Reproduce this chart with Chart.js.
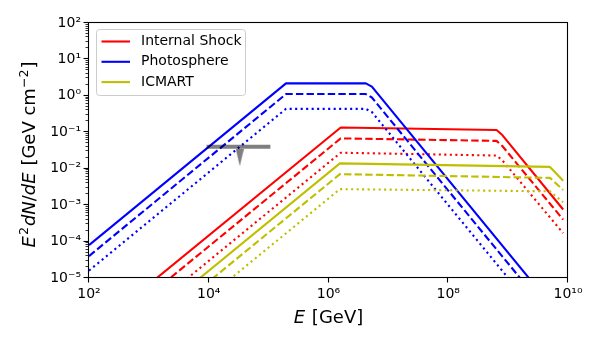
<!DOCTYPE html>
<html>
<head>
<meta charset="utf-8">
<script src="https://cdn.jsdelivr.net/npm/chart.js@4.4.1/dist/chart.umd.min.js"></script>
<style>
  html, body { margin: 0; padding: 0; background: #fff; }
  #wrap { width: 600px; height: 350px; }
</style>
</head>
<body>
<div id="wrap"><canvas id="myChart" width="600" height="350"></canvas></div>
<script>
// Internal Shock: energies (GeV) at the knots and E^2 dN/dE for the three line styles
const isEnergy = [1e2, 1.6e6, 6.4e8, 8.0e8, 8.3e9];
const isSolid  = [3e-7, 0.135, 0.115, 0.084, 7.6e-4];
const isDashed = [1.5e-7, 0.068, 0.058, 0.042, 4.0e-4];
const isDotted = [6e-8, 0.0275, 0.023, 0.017, 1.7e-4];

// Photosphere
const phEnergy = [1e2, 1.95e5, 4.2e6, 5.3e6, 1e10];
const phSolid  = [8e-5, 2.2, 2.2, 1.8, 4.9e-7];
const phDashed = [4e-5, 1.12, 1.12, 0.9, 2.5e-7];
const phDotted = [1.6e-5, 0.44, 0.44, 0.36, 1e-7];

// ICMART
const icEnergy = [1e2, 1.55e6, 5e9, 8.3e9];
const icSolid  = [3.2e-8, 0.014, 0.0112, 0.0047];
const icDashed = [1.6e-8, 0.0071, 0.0056, 0.0026];
const icDotted = [6.3e-9, 0.00275, 0.0024, 0.0012];

// grey upper limit
const ulEnergy = [9.2e3, 1.07e5];
const ulFlux = 0.04;
const ulArrowEnergy = 3.3e4;
const ulArrowFlux = 0.02;

// axes
const xTicks = [1e2, 1e4, 1e6, 1e8, 1e10];
const xTickLabels = ['10²', '10⁴', '10⁶', '10⁸', '10¹⁰'];
const yTicks = [1e-5, 1e-4, 1e-3, 1e-2, 1e-1, 1e0, 1e1, 1e2];
const yTickLabels = ['10⁻⁵', '10⁻⁴', '10⁻³', '10⁻²', '10⁻¹', '10⁰', '10¹', '10²'];

const FONT = '"DejaVu Sans", sans-serif';
const DASHED = [7.4, 3.2];
const DOTTED = [2.1, 3.4];

const models = [
  { name: 'Internal Shock', color: '#ff0000', e: isEnergy, series: [isSolid, isDashed, isDotted] },
  { name: 'Photosphere',    color: '#0000ff', e: phEnergy, series: [phSolid, phDashed, phDotted] },
  { name: 'ICMART',         color: '#bfbf00', e: icEnergy, series: [icSolid, icDashed, icDotted] }
];

const pts = (xs, ys) => xs.map((x, i) => ({ x: x, y: ys[i] }));

// arrow head as an image point style
const head = document.createElement('canvas');
head.width = 8; head.height = 17;
(function () {
  const c = head.getContext('2d');
  c.fillStyle = 'rgba(0,0,0,0.5)';
  c.beginPath(); c.moveTo(0, 0); c.lineTo(8, 0); c.lineTo(4, 17); c.closePath(); c.fill();
})();

const datasets = [
  { data: [{ x: ulArrowEnergy, y: ulArrowFlux }], showLine: false, pointStyle: head, pointRadius: 4 },
  { data: ulEnergy.map(e => ({ x: e, y: ulFlux })), borderColor: 'rgba(0,0,0,0.5)', borderWidth: 4, borderCapStyle: 'butt' }
];
// later models drawn on top, like matplotlib's plotting order
models.slice().reverse().forEach(m => {
  [DOTTED, DASHED, null].forEach((dash, k) => {
    const idx = 2 - k;
    datasets.push({
      label: idx === 0 ? m.name : '',
      data: pts(m.e, m.series[idx]),
      borderColor: m.color,
      borderDash: dash || [],
      borderWidth: 2.1
    });
  });
});

function labelFor(v, ticks, labels) {
  for (let i = 0; i < ticks.length; i++) {
    if (Math.abs(Math.log10(v) - Math.log10(ticks[i])) < 1e-6) return labels[i];
  }
  return '';
}

// mathtext-like label drawing
function drawRich(ctx, parts, size) {
  const fontOf = p => (p.it ? 'italic ' : '') + (p.sup ? size * 0.7 : size) + 'px ' + FONT;
  let w = 0;
  parts.forEach(p => { ctx.font = fontOf(p); w += ctx.measureText(p.t).width + (p.gap || 0); });
  let x = -w / 2;
  parts.forEach(p => {
    ctx.font = fontOf(p);
    ctx.fillText(p.t, x, p.sup ? -size * 0.4 : 0);
    x += ctx.measureText(p.t).width + (p.gap || 0);
  });
}

const framePlugin = {
  id: 'frame',
  afterDraw(chart) {
    const { ctx, chartArea: a, scales } = chart;
    ctx.save();
    ctx.strokeStyle = '#000';
    ctx.lineWidth = 1.1;
    ctx.strokeRect(a.left - 0.5, a.top - 0.5, a.right - a.left, a.bottom - a.top);
    scales.x.ticks.forEach(t => {
      const px = Math.round(scales.x.getPixelForValue(t.value)) - 0.5;
      const len = t.major ? 5 : 3;
      ctx.lineWidth = t.major ? 1.1 : 0.8;
      ctx.beginPath(); ctx.moveTo(px, a.bottom - 0.5); ctx.lineTo(px, a.bottom - 0.5 + len); ctx.stroke();
    });
    scales.y.ticks.forEach(t => {
      const py = Math.round(scales.y.getPixelForValue(t.value)) - 0.5;
      const len = t.major ? 5 : 3;
      ctx.lineWidth = t.major ? 1.1 : 0.8;
      ctx.beginPath(); ctx.moveTo(a.left - 0.5, py); ctx.lineTo(a.left - 0.5 - len, py); ctx.stroke();
    });

    // legend
    const lx = a.left + 7.5, ly = a.top + 6.5;
    ctx.beginPath();
    ctx.roundRect(lx, ly, 149, 66, 3);
    ctx.fillStyle = 'rgba(255,255,255,0.8)';
    ctx.fill();
    ctx.strokeStyle = '#cccccc';
    ctx.lineWidth = 1;
    ctx.stroke();
    ctx.font = '14px ' + FONT;
    ctx.textBaseline = 'middle';
    models.forEach((m, i) => {
      const y = ly + 12 + i * 20.3;
      ctx.strokeStyle = m.color;
      ctx.lineWidth = 2.1;
      ctx.beginPath(); ctx.moveTo(lx + 5, y); ctx.lineTo(lx + 33.5, y); ctx.stroke();
      ctx.fillStyle = '#000';
      ctx.fillText(m.name, lx + 44.5, y);
    });

    // axis titles
    ctx.fillStyle = '#000';
    ctx.textBaseline = 'alphabetic';
    ctx.save();
    ctx.translate((a.left + a.right) / 2, 323);
    drawRich(ctx, [{ t: 'E', it: true, gap: 1 }, { t: ' [GeV]' }], 18);
    ctx.restore();
    ctx.save();
    ctx.translate(35, (a.top + a.bottom) / 2 + 4);
    ctx.rotate(-Math.PI / 2);
    drawRich(ctx, [
      { t: 'E', it: true, gap: 1 }, { t: '2', sup: true, gap: 1 }, { t: 'dN', it: true }, { t: '/' },
      { t: 'dE', it: true, gap: 1 }, { t: ' [GeV cm' }, { t: '−2', sup: true, gap: 1 }, { t: ']' }
    ], 18);
    ctx.restore();
    ctx.restore();
  }
};

const ctx = document.getElementById('myChart').getContext('2d');
new Chart(ctx, {
  type: 'line',
  data: { datasets: datasets },
  plugins: [framePlugin],
  options: {
    responsive: false,
    animation: false,
    events: [],
    layout: { padding: { top: 23, right: 32, left: 0, bottom: 0 } },
    datasets: { line: { clip: 0 } },
    elements: {
      point: { radius: 0 },
      line: { tension: 0, borderJoinStyle: 'round', fill: false }
    },
    plugins: { legend: { display: false }, tooltip: { enabled: false } },
    scales: {
      x: {
        type: 'logarithmic',
        min: 1e2, max: 1e10,
        afterBuildTicks: s => { s.ticks = xTicks.map(v => ({ value: v, major: true })); },
        afterFit: s => { s.height = 72; },
        grid: { display: false, drawTicks: false },
        border: { display: false },
        ticks: {
          autoSkip: false, maxRotation: 0, padding: 8,
          color: '#000', font: { family: FONT, size: 14 },
          callback: v => labelFor(v, xTicks, xTickLabels)
        }
      },
      y: {
        type: 'logarithmic',
        min: 1e-5, max: 1e2,
        afterBuildTicks: s => {
          const t = [];
          yTicks.forEach((d, i) => {
            t.push({ value: d, major: true });
            if (i < yTicks.length - 1) for (let k = 2; k <= 9; k++) t.push({ value: k * d, major: false });
          });
          s.ticks = t;
        },
        afterFit: s => { s.width = 89; },
        grid: { display: false, drawTicks: false },
        border: { display: false },
        ticks: {
          autoSkip: false, padding: 8,
          color: '#000', font: { family: FONT, size: 14 },
          callback: v => labelFor(v, yTicks, yTickLabels)
        }
      }
    }
  }
});
</script>
</body>
</html>
